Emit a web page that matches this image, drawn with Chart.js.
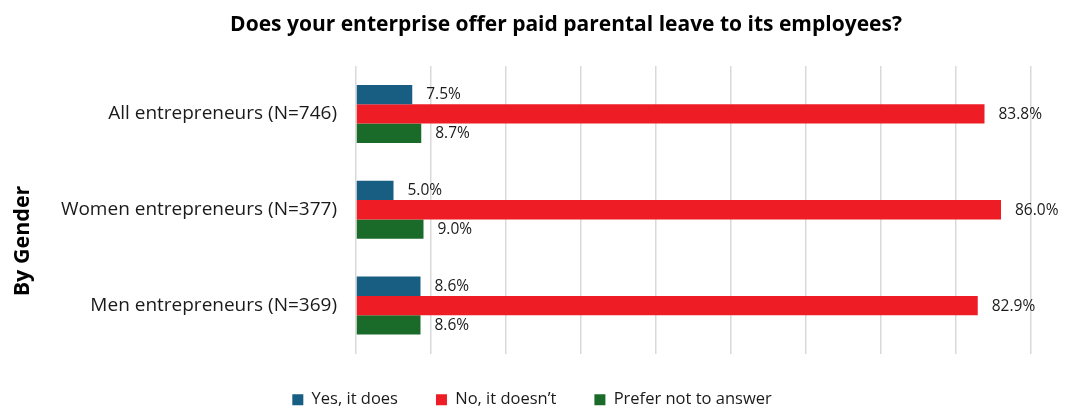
<!DOCTYPE html>
<html>
<head>
<meta charset="utf-8">
<script src="https://cdn.jsdelivr.net/npm/chart.js@4.4.0/dist/chart.umd.min.js"></script>
<style>
  html, body { margin: 0; padding: 0; background: #fff; }
  #wrap { width: 1092px; height: 410px; }
</style>
</head>
<body>
<div id="wrap"><canvas id="chart-bar"></canvas></div>
<script>
// survey answers, percent of respondents
var categories = ['All entrepreneurs (N=746)', 'Women entrepreneurs (N=377)', 'Men entrepreneurs (N=369)'];
var yesItDoes = [7.5, 5.0, 8.6];
var noItDoesnt = [83.8, 86.0, 82.9];
var preferNot = [8.7, 9.0, 8.6];
var seriesNames = ['Yes, it does', 'No, it doesn\u2019t', 'Prefer not to answer'];
var chartTitle = 'Does your enterprise offer paid parental leave to its employees?';
var groupTitle = 'By Gender';

var textColor = '#1a1a1a';

// value labels at the end of every bar
var barLabels = {
    id: 'barLabels',
    afterDatasetsDraw: function(chart) {
        var ctx = chart.ctx;
        ctx.save();
        ctx.font = '15.5px "Open Sans"';
        ctx.fillStyle = textColor;
        ctx.textAlign = 'left';
        ctx.textBaseline = 'middle';
        chart.data.datasets.forEach(function(ds, i) {
            chart.getDatasetMeta(i).data.forEach(function(bar, j) {
                ctx.fillText(ds.data[j].toFixed(1) + '%', bar.x + 14, bar.y + 0.5);
            });
        });
        ctx.restore();
    }
};

// title on top and rotated group title on the left
var extraText = {
    id: 'extraText',
    afterDraw: function(chart) {
        var ctx = chart.ctx;
        ctx.save();
        ctx.fillStyle = '#000';
        ctx.textAlign = 'center';
        ctx.textBaseline = 'middle';
        ctx.font = 'bold 21px "Open Sans"';
        ctx.fillText(chartTitle, 566, 25);
        ctx.translate(23, 241);
        ctx.rotate(-Math.PI / 2);
        ctx.font = 'bold 21.5px "Open Sans"';
        ctx.fillText(groupTitle, 0, 0);
        ctx.restore();
    }
};

const ctx = document.getElementById('chart-bar').getContext('2d');
const myChart = new Chart(ctx, {
    type: 'bar',
    data: {
        labels: categories,
        datasets: [{
            label: seriesNames[0],
            data: yesItDoes,
            backgroundColor: '#175e82'
        },
        {
            label: seriesNames[1],
            data: noItDoesnt,
            backgroundColor: '#ee1c25'
        },
        {
            label: seriesNames[2],
            data: preferNot,
            backgroundColor: '#1a6b2a'
        }]
    },
    options: {
        indexAxis: 'y',
        responsive: true,
        maintainAspectRatio: false,
        animation: false,
        datasets: {
            bar: {
                categoryPercentage: 0.606,
                barPercentage: 1
            }
        },
        layout: {
            padding: { top: 66, left: 33, right: 61, bottom: -8 }
        },
        plugins: {
            legend: {
                position: 'bottom',
                labels: {
                    boxWidth: 11,
                    boxHeight: 11,
                    padding: 38,
                    color: textColor,
                    font: { family: 'Open Sans', size: 16.5 }
                }
            },
            tooltip: { enabled: false }
        },
        scales: {
            x: {
                min: 0,
                max: 90,
                ticks: { display: false, stepSize: 10 },
                grid: { color: '#d9d9d9', lineWidth: 1.5, drawTicks: false },
                border: { display: false }
            },
            y: {
                grid: { display: false, drawTicks: false },
                border: { display: false },
                ticks: {
                    color: textColor,
                    padding: 19,
                    font: { family: 'Open Sans', size: 19 }
                },
                afterFit: function(scale) {
                    scale.width = 323;
                }
            }
        }
    },
    plugins: [barLabels, extraText]
});
</script>
</body>
</html>
